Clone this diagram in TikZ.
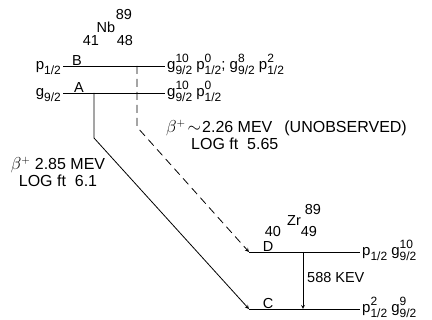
\documentclass[tikz,border=0pt]{standalone}
\usepackage{amsmath}
\usepackage{fontspec}
\setmainfont{Liberation Sans}
\usepackage{tikz}
\usetikzlibrary{positioning}

\newcommand{\orbfont}{\fontsize{12}{12}\selectfont}
\newcommand{\orb}[3]{#1\makebox[0pt][l]{\raisebox{6.5pt}{\orbfont #3}}\raisebox{-5pt}{\orbfont #2}}

\begin{document}
\begin{tikzpicture}[x=1pt, y=-1pt, font=\fontsize{14.5}{17}\selectfont, node distance=0pt, inner sep=1pt,
    level/.style={line width=0.8pt},
    decay/.style={->, line width=0.8pt, >=stealth},
    unobs/.style={decay, dash pattern=on 8pt off 5pt},
    trans/.style={font=\fontsize{16}{18}\selectfont},
    cfgR/.style={anchor=base west, xshift=1pt, yshift=-3.5pt, font=\fontsize{15}{17}\selectfont},
    cfgL/.style={anchor=base east, xshift=-1pt, yshift=-3.5pt, font=\fontsize{15}{17}\selectfont}]
\useasboundingbox (0,0) rectangle (432,320);

% Levels
\coordinate (Bl) at (63,66);  \coordinate (Br) at (165,66);
\coordinate (Al) at (63,93);  \coordinate (Ar) at (165,93);
\coordinate (Dl) at (249,252); \coordinate (Dr) at (360,252);
\coordinate (Cl) at (249,309); \coordinate (Cr) at (360,309);
\draw[level] (Bl) -- (Br);
\draw[level] (Al) -- (Ar);
\draw[level] (Dl) -- (Dr);
\draw[level] (Cl) -- (Cr);

% Nodes
\node[anchor=south] (labB) at (77,67) {B};
\node[anchor=south] (labA) at (79,94) {A};
\node[anchor=south] (labD) at (268,253) {D};
\node[anchor=south] (labC) at (268,310) {C};

\node[cfgL] (cfgBl) at (Bl) {\orb{p}{1/2}{}};
\node[cfgL] (cfgAl) at (Al) {\orb{g}{9/2}{}};
\node[cfgR] (cfgBr) at (Br) {\orb{g}{9/2}{10} \orb{p}{1/2}{0}; \orb{g}{9/2}{8} \orb{p}{1/2}{2}};
\node[cfgR] (cfgAr) at (Ar) {\orb{g}{9/2}{10} \orb{p}{1/2}{0}};
\node[cfgR] (cfgDr) at (Dr) {\orb{p}{1/2}{} \orb{g}{9/2}{10}};
\node[cfgR] (cfgCr) at (Cr) {\orb{p}{1/2}{2} \orb{g}{9/2}{9}};

% Nuclides
\node (Nb) at (106,27) {Nb};
\node (NbA) at (124,15) {89};
\node (NbZ) at (91,41) {41};
\node (NbN) at (125,41) {48};
\node (Zr) at (294,221) {Zr};
\node (ZrA) at (313,210) {89};
\node (ZrZ) at (273,232) {40};
\node (ZrN) at (309,232) {49};

% Transition labels
\node[trans] (betaA) at (58,165) {$\beta^{+}$ 2.85 MEV};
\node[trans, below=0pt of betaA] (ftA) {LOG ft\ \ 6.1};
\node[trans, anchor=west] (betaB) at (165,128) {$\beta^{+}$\hspace{2pt}$\sim$\hspace{1pt}2.26 MEV\hspace{12pt}(UNOBSERVED)};
\node[trans, anchor=west] (ftB) at (190,144) {LOG ft\ \ 5.65};
\node[anchor=west] (gam) at (306,278) {588 KEV};

% Arrows
\coordinate (Adrop) at (94,93);  \coordinate (Akink) at (94,138);
\coordinate (Bdrop) at (137,66); \coordinate (Bkink) at (137,127);
\coordinate (Dg) at (303,252);   \coordinate (Cg) at (303,309);
\draw[decay] (Adrop) -- (Akink) -- (Cl);
\draw[unobs] (Bdrop) -- (Bkink) -- (Dl);
\draw[decay] (Dg) -- (Cg);

\end{tikzpicture}
\end{document}
